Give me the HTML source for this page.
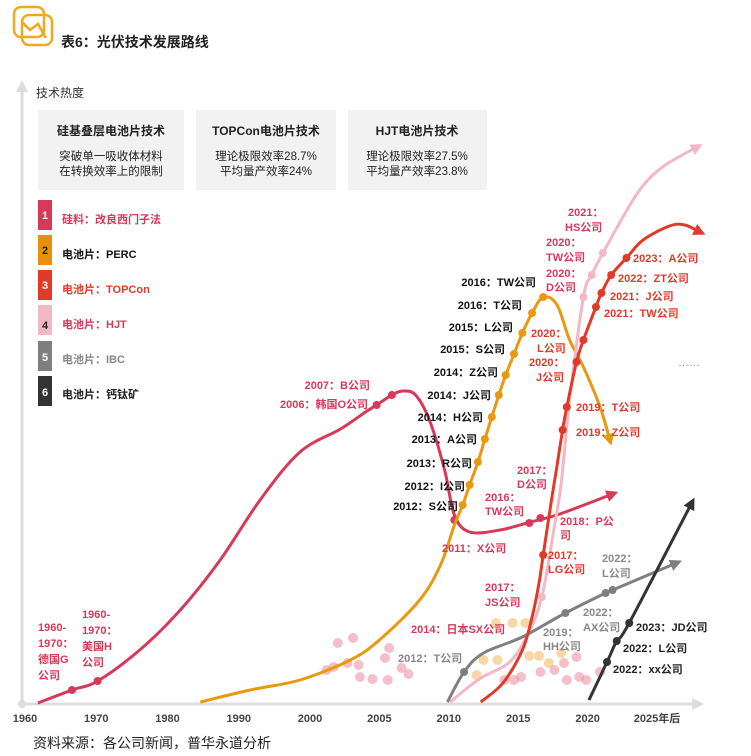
<!DOCTYPE html>
<html><head><meta charset="utf-8"><style>
html,body{margin:0;padding:0;background:#fff;}
svg{display:block;font-family:"Liberation Sans","Noto Sans CJK SC",sans-serif;}
.lb{font-size:11px;font-weight:bold;}
</style></head><body>
<svg id="chart" width="751" height="756" viewBox="0 0 751 756" xmlns="http://www.w3.org/2000/svg">
<defs>
<marker id="arr" viewBox="0 0 10 10" refX="5" refY="5" markerWidth="4" markerHeight="4" orient="auto-start-reverse"><path d="M0,0L10,5L0,10z" fill="context-stroke"/></marker>
</defs>
<g fill="none" stroke="#f0a81c" stroke-width="2.5">
<rect x="14" y="7" width="30" height="30" rx="7"/>
<rect x="22" y="15" width="30" height="30" rx="7"/>
<path d="M22,22 L30,30 L38,24 L46,38"/>
</g>
<text x="61" y="47" font-size="14" font-weight="bold" fill="#222">表6：光伏技术发展路线</text>

<g>
<line x1="22" y1="704" x2="22" y2="90" stroke="#ddd" stroke-width="3"/>
<path d="M16,92 L22,80 L28,92z" fill="#ddd"/>
</g>
<text x="36" y="97" font-size="12" fill="#333">技术热度</text>
<g>
<line x1="22" y1="704" x2="694" y2="704" stroke="#ddd" stroke-width="3"/>
<path d="M692,698 L704,704 L692,710z" fill="#ddd"/>
<circle cx="22" cy="704" r="4" fill="#ddd"/>
</g>
<g id="xticks"></g>

<g>
<rect x="38" y="110" width="146" height="80" fill="#f2f2f2"/>
<text x="111" y="135" text-anchor="middle" font-size="12" font-weight="bold" fill="#222">硅基叠层电池片技术</text>
<text x="111" y="160" text-anchor="middle" font-size="11.5" fill="#222">突破单一吸收体材料</text>
<text x="111" y="175" text-anchor="middle" font-size="11.5" fill="#222">在转换效率上的限制</text>
</g>
<g>
<rect x="196" y="110" width="140" height="80" fill="#f2f2f2"/>
<text x="266" y="135" text-anchor="middle" font-size="12" font-weight="bold" fill="#222">TOPCon电池片技术</text>
<text x="266" y="160" text-anchor="middle" font-size="11.5" fill="#222">理论极限效率28.7%</text>
<text x="266" y="175" text-anchor="middle" font-size="11.5" fill="#222">平均量产效率24%</text>
</g>
<g>
<rect x="348" y="110" width="139" height="80" fill="#f2f2f2"/>
<text x="417" y="135" text-anchor="middle" font-size="12" font-weight="bold" fill="#222">HJT电池片技术</text>
<text x="417" y="160" text-anchor="middle" font-size="11.5" fill="#222">理论极限效率27.5%</text>
<text x="417" y="175" text-anchor="middle" font-size="11.5" fill="#222">平均量产效率23.8%</text>
</g>

<g>
<g><rect x="38" y="200" width="14" height="30" fill="#d6395a"/><text x="45" y="219" text-anchor="middle" font-size="11" font-weight="bold" fill="#fff">1</text><text x="62" y="223" class="lb" fill="#d6395a">硅料：改良西门子法</text></g>
<g><rect x="38" y="235" width="14" height="30" fill="#e8900c"/><text x="45" y="254" text-anchor="middle" font-size="11" font-weight="bold" fill="#222">2</text><text x="62" y="258" class="lb" fill="#111">电池片：PERC</text></g>
<g><rect x="38" y="270" width="14" height="30" fill="#e03a2a"/><text x="45" y="289" text-anchor="middle" font-size="11" font-weight="bold" fill="#fff">3</text><text x="62" y="293" class="lb" fill="#e03a2a">电池片：TOPCon</text></g>
<g><rect x="38" y="305" width="14" height="30" fill="#f2b8c4"/><text x="45" y="329" text-anchor="middle" font-size="11" font-weight="bold" fill="#222">4</text><text x="62" y="328" class="lb" fill="#d6395a">电池片：HJT</text></g>
<g><rect x="38" y="341" width="14" height="30" fill="#7f7f7f"/><text x="45" y="361" text-anchor="middle" font-size="11" font-weight="bold" fill="#fff">5</text><text x="62" y="363" class="lb" fill="#888">电池片：IBC</text></g>
<g><rect x="38" y="376" width="14" height="30" fill="#333"/><text x="45" y="396" text-anchor="middle" font-size="11" font-weight="bold" fill="#fff">6</text><text x="62" y="398" class="lb" fill="#222">电池片：钙钛矿</text></g>
</g>

<g id="scatter"></g>
<g id="series"></g>

<g class="lb">
<g fill="#d6395a">
<text x="38" y="631">1960-</text><text x="38" y="647">1970：</text><text x="38" y="663">德国G</text><text x="38" y="679">公司</text>
<text x="82" y="618">1960-</text><text x="82" y="634">1970：</text><text x="82" y="650">美国H</text><text x="82" y="666">公司</text>
<text x="370" y="389" text-anchor="end">2007：B公司</text>
<text x="368" y="408" text-anchor="end">2006：韩国O公司</text>
<text x="442" y="552">2011：X公司</text>
<text x="485" y="501">2016：</text><text x="485" y="515">TW公司</text>
<text x="517" y="474">2017：</text><text x="517" y="488">D公司</text>
<text x="560" y="525">2018：P公</text><text x="560" y="539">司</text>
<text x="485" y="591">2017：</text><text x="485" y="606">JS公司</text>
<text x="411" y="633">2014：日本SX公司</text>
<text x="568" y="216">2021：</text><text x="565" y="231">HS公司</text>
<text x="546" y="246">2020：</text><text x="546" y="261">TW公司</text>
<text x="546" y="277">2020：</text><text x="546" y="291">D公司</text>
</g>
<g fill="#e03a2a">
<text x="531" y="337">2020：</text><text x="537" y="352">L公司</text>
<text x="529" y="366">2020：</text><text x="536" y="381">J公司</text>
<text x="576" y="411">2019：T公司</text>
<text x="576" y="436">2019：Z公司</text>
<text x="633" y="262">2023：A公司</text>
<text x="618" y="282">2022：ZT公司</text>
<text x="610" y="300">2021：J公司</text>
<text x="604" y="317">2021：TW公司</text>
<text x="548" y="559">2017：</text><text x="548" y="573">LG公司</text>
</g>
<g fill="#111" text-anchor="end">
<text x="536" y="286">2016：TW公司</text>
<text x="522" y="309">2016：T公司</text>
<text x="513" y="331">2015：L公司</text>
<text x="505" y="353">2015：S公司</text>
<text x="498" y="376">2014：Z公司</text>
<text x="491" y="399">2014：J公司</text>
<text x="483" y="421">2014：H公司</text>
<text x="477" y="443">2013：A公司</text>
<text x="472" y="467">2013：R公司</text>
<text x="465" y="490">2012：I公司</text>
<text x="458" y="510">2012：S公司</text>
</g>
<g fill="#888">
<text x="602" y="562">2022：</text><text x="602" y="577">L公司</text>
<text x="583" y="616">2022：</text><text x="583" y="631">AX公司</text>
<text x="543" y="636">2019：</text><text x="543" y="650">HH公司</text>
<text x="398" y="662">2012：T公司</text>
<text x="678" y="366" font-weight="normal">……</text>
</g>
<g fill="#222">
<text x="636" y="631">2023：JD公司</text>
<text x="623" y="652">2022：L公司</text>
<text x="613" y="673">2022：xx公司</text>
</g>
</g>
<text x="33" y="748" font-size="14" fill="#222">资料来源：各公司新闻，普华永道分析</text>
</svg>
<script>
const tickYears=[1960,1970,1980,1990,2000,2005,2010,2015,2020,2025];
const tickLabels=["1960","1970","1980","1990","2000","2005","2010","2015","2020","2025年后"];
const siliconYears=[1961.8,1966.6,1970.2,1976.1,1981.8,1987.4,1993.0,1998.6,2002.2,2004.0,2004.8,2005.9,2006.7,2007.6,2008.6,2009.7,2010.4,2011.5,2013.7,2015.9,2018.0,2021.8];
const siliconHeat=[1,14,23,54,94,144,204,252,275,292,299,309,313,309,284,234,189,172,174,182,190,210];
const siliconDotYears=[1966.6,1970.2,2004.8,2005.9,2010.4,2015.8,2016.6];
const siliconDotHeat=[14,23,299,309,184,181,186];
const percYears=[1984.6,1991.6,1998.6,2002.9,2005.0,2007.9,2009.4,2010.4,2011.0,2011.5,2012.1,2012.6,2013.1,2013.6,2014.1,2014.7,2015.3,2016.0,2016.8,2017.8,2018.7,2019.7,2020.9,2021.6];
const percHeat=[2,14,24,44,64,104,139,179,199,219,242,265,287,309,329,350,371,391,407,399,364,337,297,264];
const percDotYears=[2011.0,2011.5,2012.1,2012.6,2013.1,2013.6,2014.1,2014.7,2015.3,2016.0,2016.8];
const percDotHeat=[199,219,242,265,287,309,329,350,371,391,407];
const topconYears=[2012.3,2013.9,2015.3,2016.0,2016.5,2016.8,2017.4,2017.7,2018.2,2018.5,2019.2,2019.7,2020.6,2021.0,2021.7,2022.8,2024.0,2025.9,2027.0,2028.1];
const topconHeat=[2,21,54,87,121,149,204,230,274,297,342,364,397,411,429,446,464,478,479,472];
const topconDotYears=[2016.8,2018.2,2018.5,2019.2,2019.7,2020.6,2021.0,2021.7,2022.8];
const topconDotHeat=[149,274,297,342,364,397,411,429,446];
const hjtYears=[2010.1,2012.2,2014.3,2015.6,2016.7,2017.6,2018.1,2018.7,2019.7,2020.3,2021.1,2023.6,2025.4,2027.9];
const hjtHeat=[2,25,41,67,107,177,221,304,407,429,451,511,537,557];
const hjtDotYears=[2016.7,2019.7,2020.3,2021.1];
const hjtDotHeat=[107,407,429,451];
const ibcYears=[2009.9,2011.1,2012.5,2015.3,2018.4,2021.3,2021.8,2026.4];
const ibcHeat=[2,32,51,67,91,111,114,141];
const ibcDotYears=[2011.1,2018.4,2021.3,2021.8];
const ibcDotHeat=[32,91,111,114];
const pvkYears=[2020.1,2021.4,2022.1,2023.0,2027.5];
const pvkHeat=[4,42,63,81,201];
const pvkDotYears=[2021.4,2022.1,2023.0];
const pvkDotHeat=[42,63,81];
const scatterPinkYears=[2002.0,2003.1,2005.7,2005.4,2001.2,2001.7,2002.7,2003.5,2003.6,2004.5,2005.6,2006.6,2007.1,2014.0,2014.7,2015.2,2016.6,2017.6,2018.3,2019.2,2019.9,2020.9,2018.5,2019.4];
const scatterPinkHeat=[61,66,56,46,34,37,41,39,27,25,24,36,30,24,24,27,32,34,41,47,24,32,24,27];
const scatterOrangeYears=[2013.4,2014.6,2015.5,2012.0,2012.5,2013.5,2015.8,2016.5,2017.2,2018.1];
const scatterOrangeHeat=[81,81,81,29,44,44,48,48,41,51];

const NS="http://www.w3.org/2000/svg";
function xOf(yr){return yr<=2000?25+(yr-1960)*7.125:310+(yr-2000)*13.88;}
function yOf(h){return 704-h;}
function mk(tag,attrs,parent){const e=document.createElementNS(NS,tag);for(const k in attrs)e.setAttribute(k,attrs[k]);parent.appendChild(e);return e;}
function pathD(xs,hs){const p=xs.map((y,i)=>[xOf(y),yOf(hs[i])]);let d="M"+p[0][0]+","+p[0][1];
for(let i=0;i<p.length-1;i++){const p0=p[i-1]||p[i],p1=p[i],p2=p[i+1],p3=p[i+2]||p2;
const c1=[p1[0]+(p2[0]-p0[0])/6,p1[1]+(p2[1]-p0[1])/6],c2=[p2[0]-(p3[0]-p1[0])/6,p2[1]-(p3[1]-p1[1])/6];
d+=" C"+c1[0].toFixed(1)+","+c1[1].toFixed(1)+" "+c2[0].toFixed(1)+","+c2[1].toFixed(1)+" "+p2[0].toFixed(1)+","+p2[1].toFixed(1);}return d;}
const xt=document.getElementById('xticks');
tickYears.forEach((y,i)=>{const t=mk('text',{x:xOf(y),y:722,'text-anchor':'middle','font-size':'11','font-weight':'bold',fill:'#444'},xt);t.textContent=tickLabels[i];

});
const sc=document.getElementById('scatter');
scatterPinkYears.forEach((y,i)=>{const c=mk('circle',{cx:xOf(y),cy:yOf(scatterPinkHeat[i]),r:5,fill:'#eb8a9a','fill-opacity':0.55},sc);

});
scatterOrangeYears.forEach((y,i)=>{const c=mk('circle',{cx:xOf(y),cy:yOf(scatterOrangeHeat[i]),r:5,fill:'#f3b75c','fill-opacity':0.55},sc);

});
const sr=document.getElementById('series');
const series=[
["silicon",siliconYears,siliconHeat,siliconDotYears,siliconDotHeat,"#d6395a"],
["perc",percYears,percHeat,percDotYears,percDotHeat,"#e8990f"],
["hjt",hjtYears,hjtHeat,hjtDotYears,hjtDotHeat,"#f2b8c4"],
["ibc",ibcYears,ibcHeat,ibcDotYears,ibcDotHeat,"#7f7f7f"],
["topcon",topconYears,topconHeat,topconDotYears,topconDotHeat,"#e03a2a"],
["perovskite",pvkYears,pvkHeat,pvkDotYears,pvkDotHeat,"#333333"]];
series.forEach(s=>{const g=mk('g',{},sr);


const p=mk('path',{d:pathD(s[1],s[2]),fill:'none',stroke:s[5],'stroke-width':3,'marker-end':'url(#arr)'},g);


s[3].forEach((y,i)=>{const c=mk('circle',{cx:xOf(y),cy:yOf(s[4][i]),r:4,fill:s[5]},g);

});});
</script>
</body></html>
